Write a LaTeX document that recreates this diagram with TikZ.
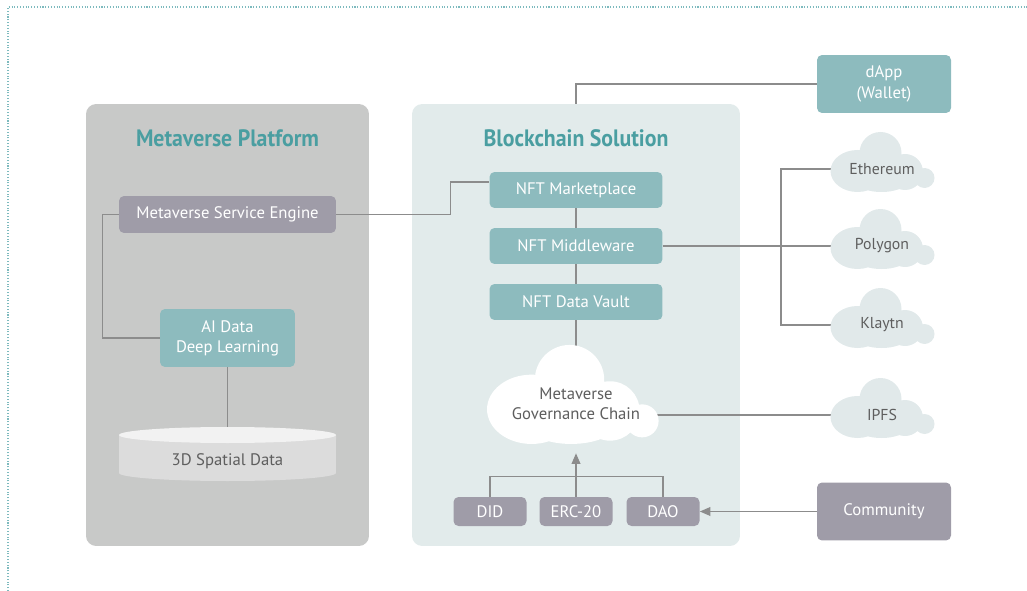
\documentclass[tikz,border=0pt]{standalone}
\usepackage{fontspec}
\setmainfont{PT Sans}
\newfontfamily\titlefont{PT Sans}[FakeStretch=0.92]
\usepackage{xcolor}
\usepackage{tikz}
\usetikzlibrary{positioning, arrows.meta, calc, backgrounds}

\definecolor{platgray}{HTML}{C8C9C8}
\definecolor{chainbg}{HTML}{E2EBEB}
\definecolor{boxteal}{HTML}{8DBBBE}
\definecolor{boxmauve}{HTML}{9F9CA8}
\definecolor{titleteal}{HTML}{4A9EA1}
\definecolor{cloudfill}{HTML}{E1E9EA}
\definecolor{linegray}{HTML}{8C8C8C}
\definecolor{darktext}{HTML}{5E5E5E}
\definecolor{cylside}{HTML}{DCDCDC}
\definecolor{cyltop}{HTML}{F2F2F2}
\definecolor{framedots}{HTML}{7DBABE}

\begin{document}
\begin{tikzpicture}[
    x=0.02cm, y=-0.02cm,
    font=\fontsize{9.5}{11.5}\selectfont,
    panel/.style={rounded corners=0.2cm, minimum height=8.84cm, inner sep=0pt},
    title/.style={font=\fontsize{13.5}{16}\selectfont\titlefont\bfseries, text=titleteal},
    box/.style={rounded corners=0.1cm, text=white, align=center, inner sep=0pt},
    tealbox/.style={box, fill=boxteal},
    greybox/.style={box, fill=boxmauve},
    nftbox/.style={minimum width=3.46cm, minimum height=0.72cm},
    smallbox/.style={minimum width=1.46cm, minimum height=0.58cm},
    sidebox/.style={minimum width=2.68cm, minimum height=1.16cm},
    cloudtext/.style={text=darktext, align=center, font=\fontsize{9}{11.5}\selectfont},
    link/.style={draw=linegray, line width=0.7pt},
    arrow/.style={link, -{Triangle[length=6pt,width=5pt]}},
    frame/.style={draw=framedots, line width=0.6pt, densely dotted}
]
    \def\lx{227.5} % columna plataforma
    \def\mx{576}   % columna blockchain
    \def\rx{882}   % nubes externas
    \def\bx{884}   % cajas externas

    % nube: x, y, escala, color
    \def\puff#1#2#3#4{%
      \begin{scope}[shift={(#1,#2)}, scale=#3]
        \fill[#4] (-1.5,-16) circle (21) (-24.5,2) ellipse (27 and 21)
                  (-0.5,8) ellipse (30 and 15) (23,3) circle (18) (42.5,9) circle (10);
      \end{scope}}

    \useasboundingbox (0,0) rectangle (1027,591);

    % marco
    \draw[frame] (8,591) -- (8,7) -- (1027,7);

    % paneles
    \begin{scope}[on background layer]
      \node[panel, fill=platgray, minimum width=5.66cm] (platform) at (\lx,325) {};
      \node[panel, fill=chainbg, minimum width=6.56cm] (chain) at (\mx,325) {};
    \end{scope}

    \node[title] (plattitle) at (\lx,138) {Metaverse Platform};
    \node[title] (chaintitle) at (\mx,138) {Blockchain Solution};

    % plataforma
    \node[greybox, minimum width=4.34cm, minimum height=0.74cm] (engine) at (\lx,214.5) {Metaverse Service Engine};
    \node[tealbox, minimum width=2.7cm, minimum height=1.16cm] (aidata) at (\lx,338) {AI Data\\Deep Learning};

    \fill[cylside] (119,435) -- (119,473) arc[start angle=180, end angle=360, x radius=2.17cm, y radius=0.16cm] -- (336,435) -- cycle;
    \fill[cyltop] (\lx,435) ellipse (108.5 and 8);
    \coordinate (spatialtop) at (\lx,427);
    \node[cloudtext, font=\fontsize{9.5}{11.5}\selectfont] (spatial) at (\lx,461) {3D Spatial Data};

    % blockchain
    \node[tealbox, nftbox] (market) at (\mx,190) {NFT Marketplace};
    \node[tealbox, nftbox] (middleware) at (\mx,246) {NFT Middleware};
    \node[tealbox, nftbox] (vault) at (\mx,302) {NFT Data Vault};

    \puff{572}{406}{1.65}{white}
    \node[cloudtext, font=\fontsize{9.5}{11.5}\selectfont, minimum height=1.96cm] (gov) at (\mx,404) {Metaverse\\Governance Chain};

    \node[greybox, smallbox] (did) at (490,511.5) {DID};
    \node[greybox, smallbox] (erc) at (\mx,511.5) {ERC-20};
    \node[greybox, smallbox] (dao) at (663,511.5) {DAO};

    % externos
    \node[tealbox, sidebox] (dapp) at (\bx,84) {dApp\\(Wallet)};
    \node[greybox, sidebox] (community) at (\bx,511.5) {Community};

    \foreach \name/\txt/\yy in {eth/Ethereum/169, polygon/Polygon/246, klaytn/Klaytn/325, ipfs/IPFS/415} {
      \puff{\rx}{\yy}{1}{cloudfill}
      \node[cloudtext] (\name) at (\rx,\yy) {\txt};
    }
    \coordinate (split) at (781,246);

    % conexiones
    \begin{scope}[on background layer]
      \draw[link] (engine.east) -- ++(114,0) |- ([yshift=4.5pt]market.west);
      \draw[link] (engine.west) -- ++(-16,0) |- (aidata.west);
      \draw[link] (aidata.south) -- (spatialtop);
      \draw[link] (market) -- (middleware) -- (vault) -- (gov);
      \draw[link] (dapp.west) -| (chain.north);
      \draw[link] (middleware) -- (polygon);
      \draw[link] (eth) -| (split) |- (klaytn);
      \draw[link] (ipfs) -- (ipfs -| gov);
      \draw[link] (did.north) -- ++(0,-20) -| (dao.north);
      \draw[arrow] (erc.north) -- (gov.south);
      \draw[arrow] (community.west) -- (dao.east);
    \end{scope}
\end{tikzpicture}
\end{document}
